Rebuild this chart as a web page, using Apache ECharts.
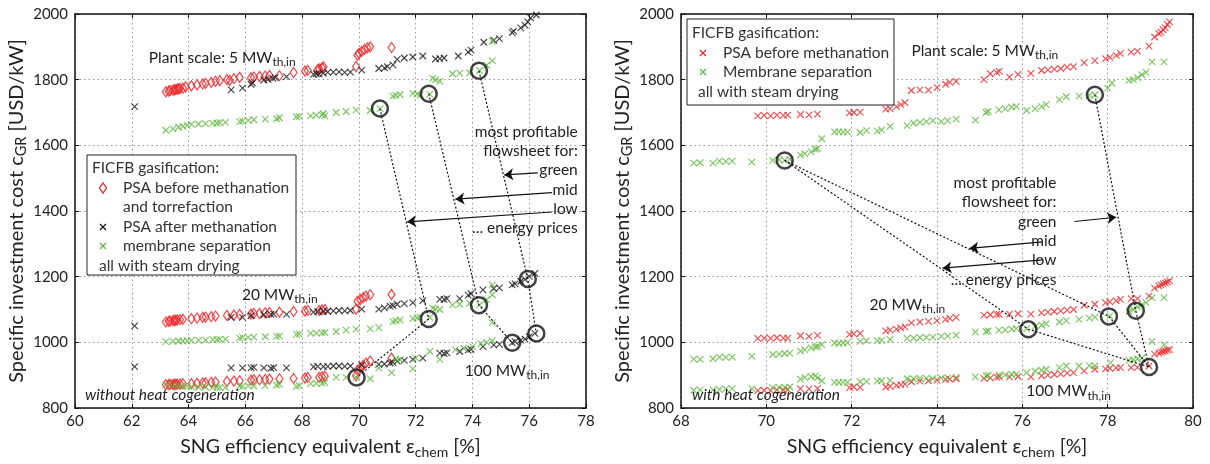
<!DOCTYPE html>
<html>
<head>
<meta charset="utf-8">
<script src="https://cdn.jsdelivr.net/npm/echarts@6/dist/echarts.min.js"></script>
<style>
  html, body { margin: 0; padding: 0; background: #fff; }
  #chart { width: 1210px; height: 464px; }
</style>
</head>
<body>
<div id="chart"></div>
<script>
// ---------- axis ranges ----------
const xRangeLeft = [60, 78];
const xRangeRight = [68, 80];
const yRange = [800, 2000];
const xStep = 2;
const yStep = 200;

// ---------- without heat cogeneration: [efficiency %, cost USD/kW] ----------
const L5_psaBefore = [[63.2,1763],[63.3,1765],[63.35,1767],[63.45,1768],[63.5,1769],[63.55,1770],[63.6,1771],[63.65,1772],[63.7,1773],[63.8,1774],[63.9,1778],[64.1,1781],[64.3,1784],[64.5,1787],[64.6,1789],[64.8,1792],[64.95,1795],[65.1,1797],[65.35,1800],[65.45,1798],[65.6,1803],[65.8,1807],[66.2,1806],[66.3,1808],[66.5,1810],[66.7,1811],[66.85,1813],[67.2,1812],[67.7,1822],[68.1,1826],[68.2,1828],[68.55,1830],[68.6,1833],[68.7,1836],[68.75,1839],[69.9,1840],[69.95,1874],[70.0,1880],[70.1,1886],[70.2,1892],[70.3,1897],[70.4,1900],[71.15,1898]];
const L5_psaAfter = [[62.1,1718],[65.5,1769],[65.9,1774],[66.2,1786],[66.25,1790],[66.65,1799],[66.8,1800],[66.97,1804],[67.05,1806],[67.45,1809],[68.4,1816],[68.5,1818],[68.6,1817],[68.75,1820],[68.9,1822],[69.1,1823],[69.3,1824],[69.5,1822],[69.7,1823],[70.1,1829],[70.7,1834],[70.9,1836],[71.0,1840],[71.2,1845],[71.35,1862],[71.6,1866],[71.9,1869],[72.25,1872],[72.7,1863],[72.85,1864],[73.0,1866],[73.5,1872],[73.85,1884],[73.95,1890],[74.4,1914],[74.75,1920],[74.95,1925],[75.4,1943],[75.45,1948],[75.7,1958],[75.85,1966],[75.95,1976],[76.05,1988],[76.25,1997]];
const L5_membrane = [[63.2,1646],[63.45,1650],[63.65,1655],[63.8,1658],[63.95,1661],[64.1,1664],[64.35,1665],[64.6,1666],[64.85,1667],[65.0,1668],[65.1,1669],[65.3,1670],[65.8,1672],[65.9,1674],[66.1,1676],[66.3,1678],[66.7,1680],[67.1,1681],[67.2,1684],[67.8,1687],[67.9,1688],[68.3,1690],[68.5,1692],[68.7,1693],[68.75,1697],[68.8,1690],[69.2,1700],[69.55,1703],[69.9,1707],[70.4,1706],[70.75,1712],[71.2,1750],[71.3,1752],[71.45,1754],[71.9,1758],[72.05,1756],[72.15,1753],[72.5,1756],[72.6,1804],[72.7,1800],[72.85,1795],[73.3,1818],[73.55,1820],[73.9,1821],[74.25,1828],[74.5,1844],[74.7,1858],[74.7,1917]];

const L20_psaBefore = [[63.2,1062],[63.3,1064],[63.35,1065],[63.45,1066],[63.5,1067],[63.55,1067],[63.6,1068],[63.7,1069],[63.8,1070],[64.1,1072],[64.3,1074],[64.5,1076],[64.6,1077],[64.8,1078],[64.95,1080],[65.35,1082],[65.6,1083],[65.8,1085],[66.2,1086],[66.3,1088],[66.5,1088],[66.7,1090],[66.85,1091],[67.2,1092],[67.7,1094],[68.1,1095],[68.2,1097],[68.6,1097],[68.7,1099],[68.8,1100],[69.9,1101],[69.95,1125],[70.05,1130],[70.15,1136],[70.25,1141],[70.4,1145],[71.15,1146]];
const L20_psaAfter = [[62.1,1050],[65.5,1076],[65.9,1076],[66.2,1081],[66.65,1084],[66.9,1085],[67.0,1086],[67.45,1085],[68.4,1092],[68.55,1094],[68.75,1095],[68.9,1094],[69.1,1096],[69.3,1097],[69.5,1096],[69.7,1097],[70.1,1101],[70.7,1101],[70.9,1105],[71.1,1110],[71.2,1112],[71.35,1116],[71.6,1118],[71.9,1121],[72.25,1127],[72.85,1131],[73.0,1131],[73.1,1133],[73.55,1133],[73.85,1144],[73.95,1148],[74.37,1160],[74.75,1164],[74.95,1166],[75.4,1175],[75.5,1178],[75.7,1186],[75.85,1192],[76.0,1201],[76.2,1210]];
const L20_membrane = [[63.2,1002],[63.45,1003],[63.65,1004],[63.8,1004],[63.95,1005],[64.1,1006],[64.35,1006],[64.6,1007],[64.85,1008],[65.0,1008],[65.1,1009],[65.3,1010],[65.8,1013],[65.9,1015],[66.1,1015],[66.3,1016],[66.7,1017],[67.1,1018],[67.2,1019],[67.8,1024],[67.9,1025],[68.3,1027],[68.5,1028],[68.7,1029],[68.8,1030],[69.2,1033],[69.55,1037],[69.9,1040],[70.4,1041],[70.7,1045],[71.2,1063],[71.3,1066],[71.45,1068],[71.9,1072],[72.05,1075],[72.15,1077],[72.5,1076],[72.6,1104],[72.7,1102],[72.85,1100],[73.3,1114],[73.55,1116],[73.9,1119],[74.25,1114],[74.5,1130],[74.7,1145],[74.7,1175],[74.7,1060]];

const L100_psaBefore = [[63.2,871],[63.3,871],[63.35,872],[63.45,872],[63.5,871],[63.55,873],[63.6,872],[63.7,873],[63.8,874],[64.1,874],[64.3,875],[64.5,876],[64.6,877],[64.8,878],[64.95,879],[65.35,881],[65.6,882],[65.8,883],[66.2,885],[66.3,886],[66.5,886],[66.7,887],[66.85,888],[67.2,889],[67.7,890],[68.1,891],[68.2,893],[68.6,893],[68.7,895],[68.8,897],[69.9,898],[69.95,915],[70.05,922],[70.15,930],[70.25,937],[70.4,943],[71.15,952]];
const L100_psaAfter = [[62.1,926],[65.5,922],[65.9,922],[66.2,922],[66.3,924],[66.65,922],[66.9,921],[67.0,923],[67.45,922],[68.4,925],[68.55,927],[68.75,926],[68.9,927],[69.1,928],[69.3,928],[69.5,927],[69.7,928],[70.1,931],[70.7,933],[70.9,934],[71.1,937],[71.2,939],[71.35,943],[71.6,945],[71.9,948],[72.25,952],[72.85,967],[73.0,966],[73.1,968],[73.55,972],[73.85,976],[73.95,979],[74.37,987],[74.75,992],[74.95,994],[75.4,999],[75.5,1002],[75.7,1007],[75.85,1010],[76.0,1017],[76.2,1027]];
const L100_membrane = [[63.2,871],[63.45,869],[63.65,868],[63.8,866],[63.95,866],[64.1,865],[64.35,864],[64.6,864],[64.85,863],[65.0,863],[65.1,862],[65.3,862],[65.8,867],[65.9,866],[66.1,868],[66.3,867],[66.7,868],[67.1,870],[67.2,872],[67.8,866],[67.9,868],[68.3,874],[68.5,875],[68.7,876],[68.8,877],[69.2,893],[69.55,893],[69.9,893],[70.4,889],[70.7,922],[71.15,908],[71.3,949],[71.45,947],[71.9,919],[72.0,952],[72.5,972],[72.85,948],[73.4,978],[73.7,982],[74.0,987],[74.3,996],[74.5,1000],[74.7,1005]];

// most profitable flowsheets (5 -> 20 -> 100 MW), without cogeneration
const L_lowPrice = [[70.74,1712],[72.46,1071],[69.92,893]];
const L_midPrice = [[72.46,1757],[74.23,1113],[75.4,999]];
const L_greenPrice = [[74.23,1827],[75.95,1193],[76.25,1027]];

// ---------- with heat cogeneration ----------
const R5_psaBefore = [[69.8,1690],[69.95,1691],[70.1,1690],[70.25,1692],[70.4,1691],[70.5,1692],[70.8,1694],[71.0,1693],[71.2,1695],[71.95,1699],[72.05,1700],[72.2,1701],[72.8,1710],[72.9,1712],[73.05,1718],[73.15,1724],[73.25,1730],[73.4,1767],[73.6,1769],[73.8,1768],[74.0,1776],[74.2,1786],[74.3,1792],[74.45,1795],[75.1,1800],[75.25,1818],[75.4,1822],[75.46,1825],[75.7,1808],[75.9,1816],[76.2,1819],[76.45,1828],[76.6,1830],[76.75,1832],[76.9,1834],[77.05,1838],[77.2,1840],[77.45,1852],[77.7,1858],[77.95,1864],[78.05,1868],[78.2,1874],[78.3,1880],[78.55,1884],[78.7,1887],[78.97,1902],[79.1,1930],[79.2,1940],[79.25,1945],[79.3,1952],[79.35,1958],[79.4,1968],[79.45,1976]];
const R5_membrane = [[68.3,1546],[68.45,1547],[68.75,1546],[68.9,1552],[69.05,1551],[69.2,1552],[69.66,1549],[70.15,1554],[70.3,1556],[70.43,1554],[70.55,1557],[70.8,1570],[70.9,1575],[71.05,1580],[71.15,1588],[71.2,1590],[71.3,1620],[71.6,1641],[71.7,1642],[71.8,1640],[71.9,1641],[72.2,1639],[72.35,1645],[72.6,1643],[72.7,1647],[72.9,1658],[73.3,1660],[73.45,1668],[73.6,1670],[73.75,1672],[73.9,1675],[74.1,1672],[74.25,1675],[74.45,1680],[74.9,1677],[75.15,1700],[75.2,1703],[75.45,1708],[75.6,1712],[75.75,1716],[75.86,1718],[76.1,1706],[76.3,1712],[76.45,1718],[76.56,1724],[76.87,1739],[77.03,1748],[77.33,1750],[77.57,1752],[77.7,1754],[78.0,1774],[78.1,1789],[78.5,1798],[78.6,1800],[78.7,1806],[78.8,1815],[78.9,1822],[79.04,1854],[79.32,1854]];

const R20_psaBefore = [[69.8,1012],[69.95,1013],[70.1,1012],[70.25,1014],[70.4,1013],[70.5,1013],[70.8,1020],[71.0,1018],[71.2,1021],[71.95,1024],[72.05,1026],[72.2,1027],[72.8,1035],[72.9,1037],[73.05,1040],[73.15,1044],[73.25,1047],[73.4,1059],[73.6,1062],[73.8,1064],[74.0,1066],[74.2,1070],[74.3,1073],[74.45,1076],[75.1,1083],[75.25,1084],[75.4,1086],[75.46,1085],[75.7,1086],[75.9,1087],[76.2,1086],[76.45,1090],[76.6,1092],[76.75,1094],[76.9,1096],[77.05,1098],[77.2,1100],[77.45,1113],[77.7,1116],[77.95,1121],[78.05,1123],[78.2,1127],[78.3,1131],[78.55,1133],[78.7,1133],[78.97,1141],[79.1,1165],[79.2,1172],[79.25,1175],[79.3,1178],[79.35,1181],[79.4,1184],[79.45,1187]];
const R20_membrane = [[68.3,949],[68.45,948],[68.75,950],[68.9,955],[69.05,954],[69.2,955],[69.66,957],[70.15,963],[70.3,964],[70.43,966],[70.55,967],[70.8,973],[70.9,978],[71.05,983],[71.15,986],[71.2,988],[71.3,993],[71.6,998],[71.7,997],[71.8,998],[71.9,999],[72.2,1003],[72.35,1005],[72.6,1005],[72.7,1006],[72.9,1009],[73.3,1012],[73.45,1013],[73.6,1014],[73.75,1015],[73.9,1016],[74.1,1018],[74.25,1019],[74.45,1022],[74.9,1031],[75.15,1033],[75.2,1035],[75.45,1037],[75.6,1038],[75.75,1040],[75.86,1042],[76.1,1042],[76.3,1048],[76.45,1052],[76.56,1057],[76.87,1062],[77.03,1066],[77.33,1070],[77.57,1074],[77.7,1077],[78.05,1080],[78.5,1094],[78.6,1100],[78.7,1108],[78.8,1115],[78.9,1121],[79.04,1136],[79.32,1136]];

const R100_psaBefore = [[69.8,853],[69.95,854],[70.1,853],[70.25,855],[70.4,854],[70.5,856],[70.8,859],[71.0,858],[71.2,860],[71.95,862],[72.05,864],[72.2,863],[72.8,864],[72.9,866],[73.05,869],[73.15,871],[73.25,873],[73.4,880],[73.6,882],[73.8,883],[74.0,885],[74.2,887],[74.3,888],[74.45,889],[75.1,890],[75.25,892],[75.4,894],[75.46,895],[75.7,895],[75.9,896],[76.2,895],[76.45,898],[76.6,900],[76.75,902],[76.9,904],[77.05,906],[77.2,908],[77.45,913],[77.7,918],[77.95,919],[78.05,921],[78.2,922],[78.3,923],[78.55,923],[78.7,924],[78.97,928],[79.1,964],[79.2,967],[79.25,970],[79.3,972],[79.35,974],[79.4,976],[79.45,978]];
const R100_membrane = [[68.3,854],[68.45,855],[68.75,855],[68.9,857],[69.05,858],[69.2,859],[69.66,859],[70.15,862],[70.3,863],[70.43,863],[70.55,864],[70.8,888],[70.9,893],[71.05,896],[71.15,898],[71.2,892],[71.3,883],[71.6,878],[71.7,878],[71.8,879],[71.9,878],[72.2,880],[72.35,881],[72.6,882],[72.7,883],[72.9,884],[73.3,889],[73.45,889],[73.6,890],[73.75,890],[73.9,889],[74.1,891],[74.25,892],[74.45,893],[74.9,895],[75.15,898],[75.2,899],[75.45,900],[75.6,901],[75.75,902],[75.86,903],[76.1,908],[76.3,912],[76.45,915],[76.56,918],[76.87,923],[77.03,928],[77.33,928],[77.57,929],[77.7,928],[78.07,938],[78.5,945],[78.6,947],[78.7,950],[78.8,952],[79.04,1002],[79.32,992]];

const R_lowPrice = [[70.43,1554],[76.14,1040],[78.97,925]];
const R_midPrice = [[70.43,1554],[78.03,1079],[78.97,925]];
const R_greenPrice = [[77.7,1754],[78.66,1096],[78.97,925]];

// ---------- styling ----------
const FONT = 'Lato, "Noto Sans", sans-serif';
const TXT = '#222';
const RED = '#ec2327';
const GREEN = '#5cb83c';
const BLACK = '#151515';
const CROSS = 'path://M0,0L10,10M10,0L0,10';

const chart = echarts.init(document.getElementById('chart'), null, { renderer: 'canvas' });

const NAME_RICH = {
  n: { fontSize: 19.5, fontFamily: FONT, color: TXT },
  s: { fontSize: 14, fontFamily: FONT, color: TXT, padding: [11, 0, 0, 0] }
};

function xAxes(grid, range, name) {
  const base = {
    type: 'value', gridIndex: grid, min: range[0], max: range[1], interval: xStep,
    axisLine: { show: true, onZero: false, lineStyle: { color: '#111', width: 1.5 } },
    axisTick: { show: true, inside: true, length: 4, lineStyle: { color: '#111' } }
  };
  return [
    Object.assign({}, base, {
      position: 'bottom',
      axisLabel: { color: TXT, fontFamily: FONT, fontSize: 15, margin: 6, formatter: v => String(v) },
      splitLine: { show: true, lineStyle: { type: [1.5, 3], color: '#999', width: 1 } },
      name: name, nameLocation: 'middle', nameGap: 26,
      nameTextStyle: { color: TXT, fontFamily: FONT, fontSize: 19.5, verticalAlign: 'top', rich: NAME_RICH }
    }),
    Object.assign({}, base, { position: 'top', axisLabel: { show: false }, splitLine: { show: false } })
  ];
}

function yAxes(grid, name) {
  const base = {
    type: 'value', gridIndex: grid, min: yRange[0], max: yRange[1], interval: yStep,
    axisLine: { show: true, onZero: false, lineStyle: { color: '#111', width: 1.5 } },
    axisTick: { show: true, inside: true, length: 4, lineStyle: { color: '#111' } }
  };
  return [
    Object.assign({}, base, {
      position: 'left',
      axisLabel: { color: TXT, fontFamily: FONT, fontSize: 15, margin: 7, formatter: v => String(v) },
      splitLine: { show: true, lineStyle: { type: [1.5, 3], color: '#999', width: 1 } },
      name: name, nameLocation: 'middle', nameGap: 39,
      nameTextStyle: { color: TXT, fontFamily: FONT, fontSize: 20, rich: {
        n: { fontSize: 20, fontFamily: FONT, color: TXT },
        s: { fontSize: 14.5, fontFamily: FONT, color: TXT, padding: [11, 0, 0, 0] }
      } }
    }),
    Object.assign({}, base, { position: 'right', axisLabel: { show: false }, splitLine: { show: false } })
  ];
}

const X_NAME = '{n|SNG efficiency equivalent ε}{s|chem}{n| [%]}';
const Y_NAME = '{n|Specific investment cost c}{s|GR}{n| [USD/kW]}';

function crosses(data, color, ax) {
  return {
    type: 'scatter', data: data, xAxisIndex: ax, yAxisIndex: ax,
    symbol: CROSS, symbolSize: 6.5, z: 3, silent: true,
    itemStyle: { color: 'rgba(0,0,0,0)', borderColor: color, borderWidth: 1.15 }
  };
}
function diamonds(data, color, ax) {
  return {
    type: 'scatter', data: data, xAxisIndex: ax, yAxisIndex: ax,
    symbol: 'diamond', symbolSize: [7, 10], z: 3, silent: true,
    itemStyle: { color: 'rgba(255,255,255,0)', borderColor: color, borderWidth: 1.3 }
  };
}
function connector(data, ax) {
  return {
    type: 'line', data: data, xAxisIndex: ax, yAxisIndex: ax,
    symbol: 'none', z: 4, silent: true,
    lineStyle: { color: '#111', width: 1.2, type: [2, 2] }
  };
}
function rings(data, ax) {
  return {
    type: 'scatter', data: data, xAxisIndex: ax, yAxisIndex: ax,
    symbol: 'circle', symbolSize: 16, z: 5, silent: true,
    itemStyle: { color: 'rgba(0,0,0,0)', borderColor: '#111', borderWidth: 2.5 }
  };
}
function arrows(list, ax) {
  return {
    type: 'lines', coordinateSystem: 'cartesian2d', xAxisIndex: ax, yAxisIndex: ax,
    symbol: ['none', 'arrow'], symbolSize: [0, 9], z: 6, silent: true,
    lineStyle: { color: '#111', width: 1.2, opacity: 1 },
    data: list.map(c => ({ coords: c }))
  };
}

// arrows from the price labels to the connector lines (axis units)
const L_arrows = [
  [[76.30, 1516], [75.12, 1510]],
  [[76.80, 1456], [73.40, 1436]],
  [[76.80, 1397], [71.70, 1367]]
];
const R_arrows = [
  [[77.22, 1368], [78.20, 1381]],
  [[76.47, 1306], [74.76, 1286]],
  [[76.47, 1251], [74.13, 1226]]
];

function uniq(pts) {
  const seen = {};
  return pts.filter(p => { const k = p.join(','); if (seen[k]) return false; seen[k] = 1; return true; });
}

const option = {
  animation: false,
  backgroundColor: '#fff',
  grid: [
    { left: 75, top: 14, width: 511, height: 404, containLabel: false },
    { left: 681, top: 14, width: 512, height: 404, containLabel: false }
  ],
  xAxis: [].concat(xAxes(0, xRangeLeft, X_NAME), xAxes(1, xRangeRight, X_NAME)),
  yAxis: [].concat(yAxes(0, Y_NAME), yAxes(1, Y_NAME)),
  series: [
    diamonds(L5_psaBefore, RED, 0), crosses(L5_psaAfter, BLACK, 0), crosses(L5_membrane, GREEN, 0),
    diamonds(L20_psaBefore, RED, 0), crosses(L20_psaAfter, BLACK, 0), crosses(L20_membrane, GREEN, 0),
    diamonds(L100_psaBefore, RED, 0), crosses(L100_psaAfter, BLACK, 0), crosses(L100_membrane, GREEN, 0),
    connector(L_lowPrice, 0), connector(L_midPrice, 0), connector(L_greenPrice, 0),
    rings(uniq(L_lowPrice.concat(L_midPrice, L_greenPrice)), 0),
    arrows(L_arrows, 0),

    crosses(R5_psaBefore, RED, 2), crosses(R5_membrane, GREEN, 2),
    crosses(R20_psaBefore, RED, 2), crosses(R20_membrane, GREEN, 2),
    crosses(R100_psaBefore, RED, 2), crosses(R100_membrane, GREEN, 2),
    connector(R_lowPrice, 2), connector(R_midPrice, 2), connector(R_greenPrice, 2),
    rings(uniq(R_lowPrice.concat(R_midPrice, R_greenPrice)), 2),
    arrows(R_arrows, 2)
  ]
};
chart.setOption(option);

// ---------- annotations placed in axis units ----------
const SCALE_RICH = {
  n: { fontSize: 15.5, fontFamily: FONT, color: TXT },
  s: { fontSize: 12, fontFamily: FONT, color: TXT, padding: [9, 0, 0, 0] }
};
const notes = [
  { ax: 0, at: [62.6, 1866], text: '{n|Plant scale: 5 MW}{s|th,in}', align: 'left' },
  { ax: 0, at: [65.88, 1145], text: '{n|20 MW}{s|th,in}', align: 'left' },
  { ax: 0, at: [73.73, 913], text: '{n|100 MW}{s|th,in}', align: 'left' },
  { ax: 0, at: [60.35, 839], text: 'without heat cogeneration', align: 'left', italic: true },
  { ax: 0, at: [77.71, 1494], text: 'most profitable\nflowsheet for:\ngreen\nmid\nlow\n... energy prices', align: 'right', block: true },
  { ax: 2, at: [73.40, 1887], text: '{n|Plant scale: 5 MW}{s|th,in}', align: 'left' },
  { ax: 2, at: [72.42, 1115], text: '{n|20 MW}{s|th,in}', align: 'left' },
  { ax: 2, at: [76.09, 851], text: '{n|100 MW}{s|th,in}', align: 'left' },
  { ax: 2, at: [68.26, 839], text: 'with heat cogeneration', align: 'left', italic: true },
  { ax: 2, at: [76.80, 1338], text: 'most profitable\nflowsheet for:\ngreen\nmid\nlow\n... energy prices', align: 'right', block: true }
];

const graphics = [];
notes.forEach(n => {
  const p = chart.convertToPixel({ xAxisIndex: n.ax, yAxisIndex: n.ax }, n.at);
  const style = {
    text: n.text, x: p[0], y: p[1], align: n.align, verticalAlign: 'middle',
    fill: TXT, fontFamily: FONT, fontSize: 15.5
  };
  if (n.text.indexOf('{') === 0) style.rich = SCALE_RICH;
  if (n.italic) style.fontStyle = 'italic';
  if (n.block) style.lineHeight = 19.3;
  graphics.push({ type: 'text', z: 20, style: style });
});

// legend boxes
function legendCross(x, y, color) {
  return [
    { type: 'line', z: 31, shape: { x1: x - 3, y1: y - 3, x2: x + 3, y2: y + 3 }, style: { stroke: color, lineWidth: 1.15 } },
    { type: 'line', z: 31, shape: { x1: x + 3, y1: y - 3, x2: x - 3, y2: y + 3 }, style: { stroke: color, lineWidth: 1.15 } }
  ];
}
function legendDiamond(x, y, color) {
  return [{ type: 'polygon', z: 31, shape: { points: [[x, y - 5], [x + 3.5, y], [x, y + 5], [x - 3.5, y]] },
            style: { fill: 'none', stroke: color, lineWidth: 1.3 } }];
}
function legendText(x, y, t) {
  return { type: 'text', z: 31, style: { text: t, x: x, y: y, verticalAlign: 'middle', fill: '#333', fontFamily: FONT, fontSize: 15.5 } };
}
// left legend
graphics.push({ type: 'rect', z: 30, shape: { x: 87, y: 155, width: 209, height: 120 }, style: { fill: '#fff', stroke: '#222', lineWidth: 1 } });
graphics.push(legendText(92, 168, 'FICFB gasification:'));
graphics.push(...legendDiamond(103, 188, RED));
graphics.push(legendText(123, 188, 'PSA before methanation'));
graphics.push(legendText(123, 207, 'and torrefaction'));
graphics.push(...legendCross(103, 227, BLACK));
graphics.push(legendText(123, 227, 'PSA after methanation'));
graphics.push(...legendCross(103, 246, GREEN));
graphics.push(legendText(123, 246, 'membrane separation'));
graphics.push(legendText(99, 266, 'all with steam drying'));
// right legend
graphics.push({ type: 'rect', z: 30, shape: { x: 687, y: 19, width: 207, height: 86 }, style: { fill: '#fff', stroke: '#222', lineWidth: 1 } });
graphics.push(legendText(692, 33, 'FICFB gasification:'));
graphics.push(...legendCross(703, 53, RED));
graphics.push(legendText(723, 53, 'PSA before methanation'));
graphics.push(...legendCross(703, 72, GREEN));
graphics.push(legendText(723, 72, 'Membrane separation'));
graphics.push(legendText(698, 92, 'all with steam drying'));

chart.setOption({ graphic: graphics });
</script>
</body>
</html>
